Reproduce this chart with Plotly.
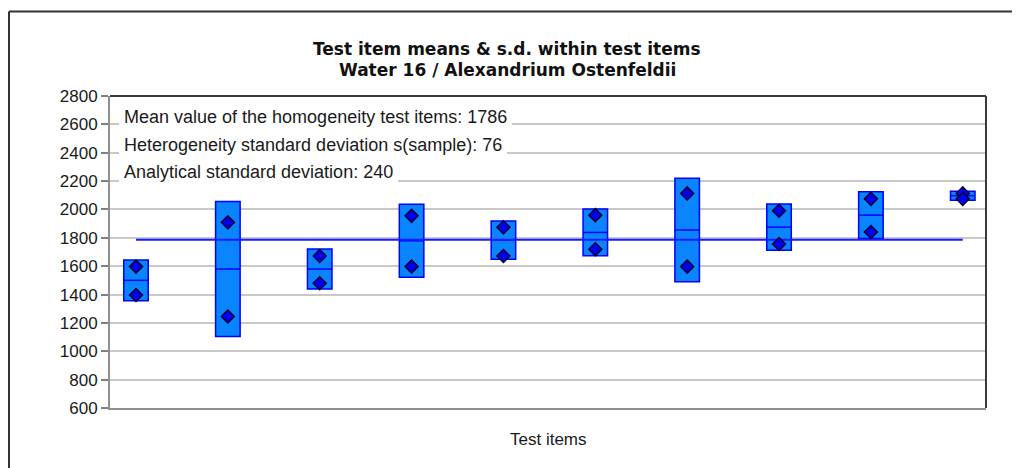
import plotly.graph_objects as go

# ---------------- data ----------------
items = list(range(1, 11))
means = [1500, 1580, 1580, 1779, 1783, 1838, 1855, 1875, 1960, 2097]
sds = [143, 476, 141, 257, 135, 165, 365, 163, 165, 32]
rep_a = [1597, 1909, 1672, 1955, 1874, 1960, 2113, 1991, 2075, 2113]
rep_b = [1397, 1245, 1480, 1597, 1672, 1719, 1597, 1756, 1841, 2075]
overall_mean = 1786
het_sd = 76
anal_sd = 240
y_ticks = [600, 800, 1000, 1200, 1400, 1600, 1800, 2000, 2200, 2400, 2600, 2800]

title_1 = "Test item means & s.d. within test items"
title_2 = "Water 16 / Alexandrium Ostenfeldii"
x_title = "Test items"
info_lines = [
    f"Mean value of the homogeneity test items: {overall_mean}",
    f"Heterogeneity standard deviation s(sample): {het_sd}",
    f"Analytical standard deviation: {anal_sd}",
]

# ---------------- styling ----------------
OFF = 8                      # page body margin of the browser
W, H = 1020 - OFF, 468 - OFF
# plot area in page pixels: x 110..986, y 96..408
ML, MT = 110 - OFF, 96 - OFF
MR = W - (986 - OFF)
MB = H - (408 - OFF)
PW, PH = W - ML - MR, H - MT - MB
BOX_W = 0.267
BOX_FILL = "#0A84FF"
BOX_LINE = "#0000FF"
TXT = "#1a1a1a"


def px_x(px):
    """page pixel x -> paper coordinate"""
    return (px - OFF - ML) / PW


def px_y(py):
    """page pixel y -> paper coordinate"""
    return (H - MB - (py - OFF)) / PH


fig = go.Figure()

# boxes: mean +/- s.d.
fig.add_trace(go.Bar(
    x=items,
    y=[2 * s for s in sds],
    base=[m - s for m, s in zip(means, sds)],
    width=BOX_W,
    marker=dict(color=BOX_FILL, line=dict(color=BOX_LINE, width=1.5)),
    hoverinfo="skip",
))

# mean line inside each box
seg_x, seg_y = [], []
for i, m in zip(items, means):
    seg_x += [i - BOX_W / 2, i + BOX_W / 2, None]
    seg_y += [m, m, None]
fig.add_trace(go.Scatter(x=seg_x, y=seg_y, mode="lines",
                         line=dict(color=BOX_LINE, width=1.5), hoverinfo="skip"))

# overall mean line
fig.add_trace(go.Scatter(x=[items[0], items[-1]], y=[overall_mean, overall_mean],
                         mode="lines", line=dict(color="#1a1aff", width=2),
                         hoverinfo="skip"))

# replicate values (diamonds)
fig.add_trace(go.Scatter(
    x=items + items, y=rep_a + rep_b, mode="markers",
    marker=dict(symbol="diamond", size=10, color="#0000EE",
                line=dict(color="#000033", width=1.5)),
    hoverinfo="skip",
))

annotations = [
    dict(text="<b>" + title_1 + "</b>", x=px_x(507), y=px_y(49),
         xref="paper", yref="paper", xanchor="center", yanchor="middle",
         showarrow=False, font=dict(family="DejaVu Sans", size=17, color="#111111")),
    dict(text="<b>" + title_2 + "</b>", x=px_x(507), y=px_y(69.5),
         xref="paper", yref="paper", xanchor="center", yanchor="middle",
         showarrow=False, font=dict(family="DejaVu Sans", size=17, color="#111111")),
    dict(text=x_title, x=px_x(548), y=px_y(439), xref="paper", yref="paper",
         xanchor="center", yanchor="middle", showarrow=False,
         font=dict(family="Liberation Sans, Arial", size=17, color=TXT)),
]
for txt, py in zip(info_lines, [117, 145, 172]):
    annotations.append(dict(
        text=txt, x=px_x(119), y=px_y(py), xref="paper", yref="paper",
        xanchor="left", yanchor="middle", showarrow=False,
        bgcolor="white", borderpad=5, borderwidth=0,
        font=dict(family="Liberation Sans, Arial", size=18, color=TXT)))

shapes = [
    # plot-area top and right border (dark)
    dict(type="line", xref="paper", yref="paper", x0=0, y0=1, x1=1, y1=1,
         line=dict(color="#3a3a3a", width=2)),
    dict(type="line", xref="paper", yref="paper", x0=1, y0=1, x1=1, y1=0,
         line=dict(color="#3a3a3a", width=2)),
    # outer frame (left and top edges)
    dict(type="line", xref="paper", yref="paper", x0=px_x(9), y0=px_y(11.5),
         x1=px_x(1040), y1=px_y(11.5), line=dict(color="#333333", width=2)),
    dict(type="line", xref="paper", yref="paper", x0=px_x(9), y0=px_y(11.5),
         x1=px_x(9), y1=px_y(490), line=dict(color="#333333", width=2)),
]

fig.update_layout(
    width=W, height=H,
    margin=dict(l=ML, r=MR, t=MT, b=MB, pad=0),
    paper_bgcolor="white", plot_bgcolor="white",
    showlegend=False,
    annotations=annotations,
    shapes=shapes,
    xaxis=dict(range=[0.717, 10.253], showgrid=False, zeroline=False,
               showticklabels=False, ticks="",
               showline=True, linecolor="#909090", linewidth=2),
    yaxis=dict(range=[600, 2800], tickvals=y_ticks, ticks="outside",
               ticklen=7, tickwidth=1.5, tickcolor="#808080",
               showgrid=True, gridcolor="#C8C8C8", gridwidth=1.5,
               zeroline=False, showline=True, linecolor="#909090", linewidth=2,
               tickfont=dict(family="Liberation Sans, Arial", size=17, color=TXT)),
)

fig.write_html("out.html")
